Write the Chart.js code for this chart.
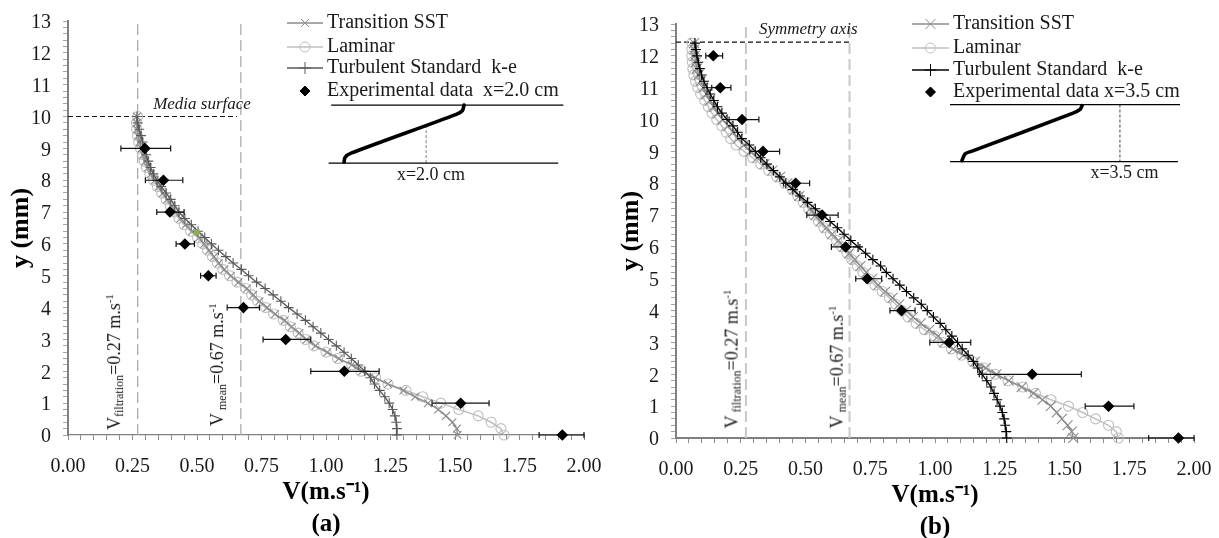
<!DOCTYPE html>
<html>
<head>
<meta charset="utf-8">
<script src="https://cdn.jsdelivr.net/npm/chart.js@4/dist/chart.umd.min.js"></script>
<style>
  html, body { margin: 0; background: #fff; }
  #a, #b { position: absolute; top: 0; }
  #a { left: 0; }
  #b { left: 610px; }
  .vnote {
    position: absolute; left: 0; top: 0; white-space: pre; color: #1a1a1a;
    font: 18px/18px "Liberation Serif"; transform-origin: 0 0;
  }
  .vnote sub, .vnote sup { font-size: 12px; line-height: 0; vertical-align: baseline; position: relative; }
  .vnote sub { top: 3px; }
  .vnote sup { font-size: 11px; top: -7px; }
</style>
</head>
<body>
<div id="a" style="width:610px;height:538px"><canvas id="chartA"></canvas></div>
<div id="b" style="width:609px;height:538px"><canvas id="chartB"></canvas></div>
<script>
const xTickLabels = ['0.00', '0.25', '0.50', '0.75', '1.00', '1.25', '1.50', '1.75', '2.00'];
const yTickLabels = ['0', '1', '2', '3', '4', '5', '6', '7', '8', '9', '10', '11', '12', '13'];
const seriesNames = ['Transition SST', 'Laminar', 'Turbulent Standard  k-e'];

// panel (a), x = 2.0 cm
const aY = [0, .2, .4, .6, .8, 1, 1.2, 1.4, 1.6, 1.8, 2, 2.2, 2.4, 2.6, 2.8, 3, 3.2, 3.4, 3.6, 3.8, 4, 4.2, 4.4, 4.6, 4.8, 5, 5.2, 5.4, 5.6, 5.8, 6, 6.2, 6.4, 6.6, 6.8, 7, 7.2, 7.4, 7.6, 7.8, 8, 8.2, 8.4, 8.6, 8.8, 9, 9.2, 9.4, 9.6, 9.8, 10];
const aSst = [1.51, 1.507, 1.49, 1.465, 1.435, 1.395, 1.345, 1.3, 1.24, 1.19, 1.14, 1.1, 1.05, 1.005, .96, .925, .897, .867, .84, .803, .772, .742, .718, .694, .661, .632, .606, .585, .566, .547, .528, .508, .481, .456, .436, .418, .401, .385, .368, .352, .337, .322, .31, .3, .292, .285, .278, .272, .268, .267, .267];
const aLaminar = [1.69, 1.678, 1.64, 1.59, 1.515, 1.445, 1.375, 1.31, 1.24, 1.192, 1.135, 1.1, 1.045, 1, .953, .92, .892, .862, .834, .797, .766, .735, .712, .688, .655, .626, .6, .579, .56, .541, .522, .502, .475, .45, .43, .413, .396, .38, .363, .347, .332, .317, .304, .295, .288, .281, .274, .269, .266, .265, .27];
const aTurbulent = [1.275, 1.275, 1.272, 1.267, 1.258, 1.245, 1.228, 1.208, 1.188, 1.172, 1.15, 1.125, 1.098, 1.07, 1.04, 1.01, .98, .95, .92, .888, .855, .825, .795, .764, .731, .7, .672, .64, .612, .583, .556, .53, .504, .478, .453, .43, .414, .398, .38, .361, .345, .331, .32, .311, .303, .296, .289, .283, .276, .27, .267];
const aExpY = [0, 1, 2, 3, 4, 5, 6, 7, 8, 9];
const aExpV = [1.916, 1.522, 1.071, .844, .68, .544, .453, .395, .37, .298];
const aExpLow = [1.826, 1.411, .941, .756, .617, .514, .419, .344, .3, .205];
const aExpHigh = [2, 1.632, 1.206, .941, .742, .574, .49, .45, .445, .398];

// panel (b), x = 3.5 cm
const bY = [0, .2, .4, .6, .8, 1, 1.2, 1.4, 1.6, 1.8, 2, 2.2, 2.4, 2.6, 2.8, 3, 3.2, 3.4, 3.6, 3.8, 4, 4.2, 4.4, 4.6, 4.8, 5, 5.2, 5.4, 5.6, 5.8, 6, 6.2, 6.4, 6.6, 6.8, 7, 7.2, 7.4, 7.6, 7.8, 8, 8.2, 8.4, 8.6, 8.8, 9, 9.2, 9.4, 9.6, 9.8, 10, 10.2, 10.4, 10.6, 10.8, 11, 11.2, 11.4, 11.6, 11.8, 12, 12.2, 12.4];
const bSst = [1.534, 1.528, 1.512, 1.49, 1.47, 1.447, 1.415, 1.38, 1.335, 1.285, 1.237, 1.196, 1.154, 1.11, 1.07, 1.036, 1.012, .978, .945, .915, .888, .862, .836, .808, .78, .757, .735, .712, .69, .669, .649, .627, .603, .58, .558, .538, .518, .497, .476, .456, .43, .402, .372, .342, .314, .287, .262, .24, .221, .201, .18, .161, .146, .131, .117, .105, .095, .087, .081, .076, .073, .071, .07];
const bLaminar = [1.708, 1.7, 1.67, 1.62, 1.57, 1.515, 1.448, 1.388, 1.339, 1.282, 1.232, 1.19, 1.146, 1.103, 1.063, 1.03, .998, .959, .927, .896, .872, .848, .824, .796, .768, .745, .722, .7, .679, .66, .64, .62, .596, .571, .55, .532, .512, .491, .47, .449, .42, .389, .358, .327, .296, .263, .232, .211, .194, .177, .157, .139, .125, .111, .095, .084, .075, .069, .065, .063, .061, .061, .061];
const bTurbulent = [1.277, 1.275, 1.271, 1.267, 1.26, 1.251, 1.24, 1.228, 1.216, 1.2, 1.182, 1.165, 1.148, 1.128, 1.105, 1.087, 1.065, 1.042, 1.02, .994, .97, .947, .918, .89, .864, .838, .812, .79, .76, .732, .703, .675, .649, .623, .595, .566, .538, .508, .478, .451, .424, .401, .376, .351, .327, .306, .283, .254, .238, .22, .197, .177, .16, .146, .132, .12, .108, .099, .092, .086, .081, .077, .073];
const bExpY = [0, 1, 2, 3, 4, 5, 6, 7, 8, 9, 10, 11, 12];
const bExpV = [1.94, 1.67, 1.375, 1.055, .871, .738, .655, .564, .462, .336, .255, .171, .144];
const bExpLow = [1.825, 1.58, 1.171, .98, .826, .694, .6, .505, .415, .285, .205, .138, .115];
const bExpHigh = [2, 1.768, 1.565, 1.138, .923, .794, .71, .626, .516, .4, .32, .212, .18];

// reference lines and inset sketches, in axis units
const filtrationV = 0.27;
const meanV = 0.67;
const aSurface = { y: 10, to: 0.655 };
const bSurface = { y: 12.43, to: 0.668 };
const aSketch = {
  top: [[1.02, 10.36], [1.92, 10.36]],
  bottom: [[1.01, 8.54], [1.9, 8.54]],
  wall: [[1.07, 8.57], [1.074, 8.72], [1.097, 8.85], [1.505, 10.07], [1.529, 10.19], [1.535, 10.36]],
  cut: [[1.388, 9.73], [1.388, 8.54]]
};
const bSketch = {
  top: [[1.058, 10.47], [1.946, 10.47]],
  bottom: [[1.058, 8.68], [1.938, 8.68]],
  wall: [[1.104, 8.71], [1.116, 8.92], [1.143, 9.01], [1.533, 10.2], [1.56, 10.32], [1.568, 10.44]],
  cut: [[1.714, 10.47], [1.714, 8.68]]
};

const toPoints = (xs, ys) => xs.map((x, i) => ({ x, y: ys[i] }));
const pairs = list => list.map(p => ({ x: p[0], y: p[1] }));

function errorPoints(ys, low, high) {
  const pts = [];
  ys.forEach((y, i) => {
    pts.push({ x: low[i], y }, { x: high[i], y }, { x: NaN, y: NaN });
  });
  return pts;
}

function plainLine(data, color, width, dash) {
  return { data, showLine: true, clip: false, borderColor: color, borderWidth: width, borderDash: dash || [], pointRadius: 0, pointHoverRadius: 0 };
}

function curve(data, color, style, radius, width) {
  return {
    data, showLine: true, clip: false, borderColor: color, borderWidth: width,
    pointStyle: style, pointRadius: radius, pointBorderColor: color,
    pointBackgroundColor: 'rgba(0,0,0,0)', pointBorderWidth: 1.1
  };
}

// legend in the plot with line + marker samples
const legendPlugin = {
  id: 'sampleLegend',
  afterDraw(chart, args, o) {
    const ctx = chart.ctx;
    ctx.save();
    ctx.font = '20px "Liberation Serif"';
    ctx.textBaseline = 'middle';
    o.rows.forEach((row, i) => {
      const y = o.y[i];
      const mid = (o.lineFrom + o.lineTo) / 2;
      if (row.line) {
        ctx.strokeStyle = row.color;
        ctx.lineWidth = row.width;
        ctx.beginPath();
        ctx.moveTo(o.lineFrom, y);
        ctx.lineTo(o.lineTo, y);
        ctx.stroke();
      }
      ctx.strokeStyle = row.color;
      ctx.fillStyle = row.fill;
      ctx.lineWidth = 1;
      Chart.helpers.drawPoint(ctx, { pointStyle: row.style, radius: row.radius, rotation: 0, borderWidth: 1 }, mid, y);
      ctx.fillStyle = '#1a1a1a';
      ctx.fillText(row.text, o.textX, y);
    });
    ctx.restore();
  }
};

// flat text notes placed by axis value
const notesPlugin = {
  id: 'notes',
  afterDatasetsDraw(chart, args, o) {
    const ctx = chart.ctx;
    o.items.forEach(n => {
      ctx.save();
      ctx.fillStyle = '#1a1a1a';
      ctx.textBaseline = 'alphabetic';
      ctx.font = (n.italic ? 'italic ' : '') + n.size + 'px "Liberation Serif"';
      ctx.fillText(n.text, chart.scales.x.getPixelForValue(n.x), chart.scales.y.getPixelForValue(n.y));
      ctx.restore();
    });
  }
};

// rotated V labels are html because they carry sub and superscripts
function addVelocityNotes(chart, holder, notes) {
  notes.forEach(n => {
    const el = document.createElement('div');
    el.className = 'vnote';
    el.innerHTML = `V<sub>${n.gap}${n.name}</sub>=${n.value} m.s<sup>-1</sup>`;
    const px = chart.scales.x.getPixelForValue(n.x);
    const py = chart.scales.y.getPixelForValue(n.y);
    el.style.transform = `translate(${px}px, ${py}px) rotate(-90deg) translateY(-14px)`;
    holder.appendChild(el);
  });
}

function panelChart(id, cfg) {
  const ink = cfg.turbulentColor;
  const datasets = [
    Object.assign(curve([{ x: cfg.greenDot[0], y: cfg.greenDot[1] }], '#8db04e', 'rect', 3, 0), { pointBackgroundColor: '#8db04e' }),
    Object.assign(curve(toPoints(cfg.expV, cfg.expY), '#000', 'rectRot', 5, 0), { showLine: false, pointBackgroundColor: '#000' }),
    Object.assign(plainLine(errorPoints(cfg.expY, cfg.expLow, cfg.expHigh), '#111', 1.2), {
      pointStyle: 'line', pointRadius: 3, pointRotation: 90, pointBorderColor: '#111', pointBorderWidth: 1.2
    }),
    curve(toPoints(cfg.turbulent, cfg.y), ink, 'cross', 5, 1.3),
    curve(toPoints(cfg.sst, cfg.y), '#8c8c8c', 'crossRot', cfg.sstRadius, 1.4),
    curve(toPoints(cfg.laminar, cfg.y), '#bfbfbf', 'circle', 5, 1.5),
    plainLine([{ x: 0, y: cfg.surface.y }, { x: cfg.surface.to, y: cfg.surface.y }], '#111', 1.1, [5, 3]),
    plainLine([{ x: filtrationV, y: 0 }, { x: filtrationV, y: 13 }], cfg.guideColor, cfg.guideWidth, [11, 5]),
    plainLine([{ x: meanV, y: 0 }, { x: meanV, y: 13 }], cfg.guideColor, cfg.guideWidth, [11, 5]),
    plainLine(pairs(cfg.sketch.top), '#000', 1.3),
    plainLine(pairs(cfg.sketch.bottom), '#000', 1.3),
    Object.assign(plainLine(pairs(cfg.sketch.wall), '#000', 3.6), { borderCapStyle: 'round', borderJoinStyle: 'round', tension: 0.25 }),
    plainLine(pairs(cfg.sketch.cut), cfg.cutColor, 1, [3, 2])
  ];
  const noPad = s => { s.paddingLeft = s.paddingRight = s.paddingTop = s.paddingBottom = 0; };
  return new Chart(document.getElementById(id), {
    type: 'scatter',
    data: { datasets },
    plugins: [legendPlugin, notesPlugin],
    options: {
      responsive: true,
      maintainAspectRatio: false,
      animation: false,
      layout: { padding: { right: cfg.area.right, top: cfg.area.top, left: 0, bottom: 0 } },
      plugins: {
        legend: { display: false },
        tooltip: { enabled: false },
        sampleLegend: {
          lineFrom: cfg.legend.lineFrom, lineTo: cfg.legend.lineTo, textX: cfg.legend.textX, y: cfg.legend.y,
          rows: [
            { text: seriesNames[0], line: true, color: '#8c8c8c', width: 1.3, fill: 'rgba(0,0,0,0)', style: 'crossRot', radius: cfg.sstRadius },
            { text: seriesNames[1], line: true, color: '#bfbfbf', width: 1.3, fill: 'rgba(0,0,0,0)', style: 'circle', radius: 5 },
            { text: seriesNames[2], line: true, color: ink, width: 1.3, fill: 'rgba(0,0,0,0)', style: 'cross', radius: 6 },
            { text: cfg.expName, line: false, color: '#000', width: 0, fill: '#000', style: 'rectRot', radius: 5 }
          ]
        },
        notes: { items: cfg.notes }
      },
      scales: {
        x: {
          type: 'linear', min: 0, max: 2,
          afterFit(s) { s.height = cfg.area.bottom; noPad(s); },
          border: { color: '#808080', width: cfg.xAxisWidth },
          grid: { drawOnChartArea: false, tickColor: '#8c8c8c', tickLength: 5, tickWidth: 1 },
          ticks: {
            stepSize: 0.05, autoSkip: false, maxRotation: 0, padding: 15, color: '#1a1a1a',
            font: { family: 'Liberation Serif', size: 20 },
            callback: (v, i) => (i % 5 === 0 ? xTickLabels[i / 5] : '')
          },
          title: {
            display: true, text: ['V(m.s⁻¹)', cfg.tag], color: '#000', padding: { top: 0, bottom: cfg.titleDrop },
            font: { family: 'Liberation Serif', size: 25, weight: 'bold', lineHeight: 1.3 }
          }
        },
        y: {
          type: 'linear', min: 0, max: 13,
          afterFit(s) { s.width = cfg.area.left; noPad(s); },
          border: { color: '#808080', width: 2 },
          grid: { drawOnChartArea: false, tickColor: '#a6a6a6', tickLength: 5, tickWidth: 1 },
          ticks: {
            stepSize: 0.2, autoSkip: false, padding: 12, labelOffset: 2, color: '#1a1a1a',
            font: { family: 'Liberation Serif', size: 20 },
            callback: (v, i) => (i % 5 === 0 ? yTickLabels[i / 5] : '')
          },
          title: {
            display: true, text: 'y (mm)', color: '#000', padding: { top: 6, bottom: 0 },
            font: { family: 'Liberation Serif', size: 26, weight: 'bold' }
          }
        }
      }
    }
  });
}

const chartA = panelChart('chartA', {
  y: aY, sst: aSst, laminar: aLaminar, turbulent: aTurbulent,
  expY: aExpY, expV: aExpV, expLow: aExpLow, expHigh: aExpHigh,
  surface: aSurface, sketch: aSketch, greenDot: [0.5, 6.37],
  turbulentColor: '#595959', sstRadius: 5.5, guideColor: '#a6a6a6', guideWidth: 1.2, cutColor: '#7f7f7f',
  xAxisWidth: 1.2, tag: '(a)', expName: 'Experimental data  x=2.0 cm', titleDrop: -3,
  area: { left: 68, right: 26, top: 21, bottom: 103 },
  legend: { lineFrom: 287, lineTo: 323, textX: 327, y: [23, 47, 68, 91] },
  notes: [
    { x: 0.33, y: 10.24, text: 'Media surface', size: 17, italic: true },
    { x: 1.275, y: 8.0, text: 'x=2.0 cm', size: 18 }
  ]
});
addVelocityNotes(chartA, document.getElementById('a'), [
  { x: 0.198, y: 0.16, name: 'filtration', value: '0.27', gap: '' },
  { x: 0.597, y: 0.28, name: 'mean', value: '0.67', gap: ' ' }
]);

const chartB = panelChart('chartB', {
  y: bY, sst: bSst, laminar: bLaminar, turbulent: bTurbulent,
  expY: bExpY, expV: bExpV, expLow: bExpLow, expHigh: bExpHigh,
  surface: bSurface, sketch: bSketch, greenDot: [NaN, NaN],
  turbulentColor: '#000', sstRadius: 7, guideColor: '#c8c8c8', guideWidth: 2, cutColor: '#444',
  xAxisWidth: 2, tag: '(b)', expName: 'Experimental data x=3.5 cm', titleDrop: -6,
  area: { left: 66, right: 25, top: 24, bottom: 100 },
  legend: { lineFrom: 302, lineTo: 339, textX: 343, y: [24, 48, 70, 92] },
  notes: [
    { x: 0.32, y: 12.7, text: 'Symmetry axis', size: 17, italic: true },
    { x: 1.6, y: 8.15, text: 'x=3.5 cm', size: 18 }
  ]
});
addVelocityNotes(chartB, document.getElementById('b'), [
  { x: 0.234, y: 0.3, name: 'filtration', value: '0.27', gap: ' ' },
  { x: 0.64, y: 0.3, name: 'mean', value: '0.67', gap: ' ' }
]);
</script>
</body>
</html>
